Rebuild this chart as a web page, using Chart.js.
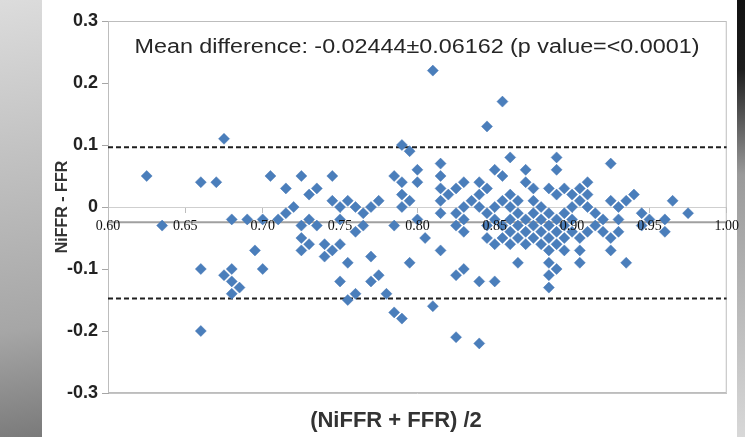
<!DOCTYPE html>
<html>
<head>
<meta charset="utf-8">
<script src="https://cdn.jsdelivr.net/npm/chart.js@4/dist/chart.umd.min.js"></script>
<style>
html,body{margin:0;padding:0;background:#fff;}
#wrap{position:relative;width:745px;height:437px;overflow:hidden;background:#fff;}
#leftbg{position:absolute;left:0;top:0;width:42px;height:437px;background:linear-gradient(170deg,#dcdcdc 0%,#c2c2c2 35%,#a6a6a6 75%,#7a7a7a 100%);}
#rightbg{position:absolute;right:0;top:0;width:8px;height:437px;background:linear-gradient(180deg,#111 0%,#1e1e1e 16%,#9a9a9a 40%,#d8d8d8 100%);}
canvas{position:absolute;left:0;top:0;}
</style>
</head>
<body>
<div id="wrap"><div id="leftbg"></div><div id="rightbg"></div><canvas id="c" width="745" height="437"></canvas></div>
<script>
// ---- data ----
const meanOfMethods = [
  0.625,
  0.635,
  0.66, 0.66, 0.66,
  0.67,
  0.675, 0.675,
  0.68, 0.68, 0.68, 0.68,
  0.685,
  0.69,
  0.695,
  0.70, 0.70,
  0.705,
  0.71,
  0.715, 0.715,
  0.72,
  0.725, 0.725, 0.725, 0.725,
  0.73, 0.73, 0.73,
  0.735, 0.735,
  0.74, 0.74,
  0.745, 0.745, 0.745,
  0.75, 0.75, 0.75, 0.75,
  0.755, 0.755, 0.755,
  0.76, 0.76, 0.76,
  0.765, 0.765,
  0.77, 0.77, 0.77,
  0.775, 0.775,
  0.78,
  0.785, 0.785, 0.785,
  0.79, 0.79, 0.79, 0.79, 0.79,
  0.795, 0.795, 0.795,
  0.80, 0.80, 0.80,
  0.805,
  0.81, 0.81,
  0.815, 0.815, 0.815, 0.815, 0.815, 0.815,
  0.82,
  0.825, 0.825, 0.825, 0.825, 0.825,
  0.83, 0.83, 0.83, 0.83, 0.83,
  0.835,
  0.84, 0.84, 0.84, 0.84, 0.84,
  0.845, 0.845, 0.845, 0.845, 0.845,
  0.85, 0.85, 0.85, 0.85, 0.85,
  0.855, 0.855, 0.855, 0.855, 0.855,
  0.86, 0.86, 0.86, 0.86, 0.86, 0.86,
  0.865, 0.865, 0.865, 0.865, 0.865,
  0.87, 0.87, 0.87, 0.87, 0.87,
  0.875, 0.875, 0.875, 0.875, 0.875,
  0.88, 0.88, 0.88, 0.88,
  0.885, 0.885, 0.885, 0.885, 0.885, 0.885, 0.885, 0.885,
  0.89, 0.89, 0.89, 0.89, 0.89, 0.89, 0.89,
  0.895, 0.895, 0.895, 0.895, 0.895,
  0.90, 0.90, 0.90, 0.90,
  0.905, 0.905, 0.905, 0.905, 0.905,
  0.91, 0.91, 0.91, 0.91,
  0.915, 0.915,
  0.92, 0.92,
  0.925, 0.925, 0.925, 0.925,
  0.93, 0.93, 0.93,
  0.935, 0.935,
  0.94,
  0.945, 0.945,
  0.95,
  0.96, 0.96,
  0.965,
  0.975
];
const methodDifference = [
  0.05,
  -0.03,
  0.04, -0.10, -0.20,
  0.04,
  0.11, -0.11,
  -0.02, -0.10, -0.12, -0.14,
  -0.13,
  -0.02,
  -0.07,
  -0.02, -0.10,
  0.05,
  -0.02,
  0.03, -0.01,
  0.00,
  0.05, -0.03, -0.05, -0.07,
  0.02, -0.02, -0.06,
  0.03, -0.03,
  -0.06, -0.08,
  0.05, 0.01, -0.07,
  0.00, -0.02, -0.06, -0.12,
  0.01, -0.09, -0.15,
  0.00, -0.04, -0.14,
  -0.01, -0.03,
  0.00, -0.08, -0.12,
  0.01, -0.11,
  -0.14,
  0.05, -0.03, -0.17,
  0.10, 0.04, 0.02, 0.00, -0.18,
  0.09, 0.01, -0.09,
  0.06, 0.04, -0.02,
  -0.05,
  0.22, -0.16,
  0.07, 0.05, 0.03, 0.01, -0.01, -0.07,
  0.02,
  0.03, -0.01, -0.03, -0.11, -0.21,
  0.04, 0.00, -0.02, -0.04, -0.10,
  0.01,
  0.04, 0.02, 0.00, -0.12, -0.22,
  0.13, 0.03, -0.01, -0.03, -0.05,
  0.06, 0.00, -0.02, -0.06, -0.12,
  0.17, 0.05, 0.01, -0.03, -0.05,
  0.08, 0.02, 0.00, -0.02, -0.04, -0.06,
  0.01, -0.01, -0.03, -0.05, -0.09,
  0.06, 0.04, -0.02, -0.04, -0.06,
  0.03, 0.01, -0.01, -0.03, -0.05,
  0.00, -0.02, -0.04, -0.06,
  0.03, -0.01, -0.03, -0.05, -0.07, -0.09, -0.11, -0.13,
  0.08, 0.06, 0.02, -0.02, -0.04, -0.06, -0.10,
  0.03, -0.01, -0.03, -0.05, -0.07,
  0.02, 0.00, -0.02, -0.04,
  0.03, 0.01, -0.05, -0.07, -0.09,
  0.04, 0.02, 0.00, -0.04,
  -0.01, -0.03,
  -0.02, -0.04,
  0.07, 0.01, -0.05, -0.07,
  0.00, -0.02, -0.04,
  0.01, -0.09,
  0.02,
  -0.01, -0.03,
  -0.02,
  -0.02, -0.04,
  0.01,
  -0.01
];
const meanDifference = [-0.02444];
const limitsOfAgreement = [0.0963, -0.1476];
const xRange = [0.6, 1.0];
const yRange = [-0.3, 0.3];
const xTickLabels = ['0.60','0.65','0.70','0.75','0.80','0.85','0.90','0.95','1.00'];
const yTickLabels = ['-0.3','-0.2','-0.1','0','0.1','0.2','0.3'];
const annotationText = 'Mean difference: -0.02444\u00b10.06162 (p value=<0.0001)';
const xTitle = '(NiFFR + FFR) /2';
const yTitle = 'NiFFR - FFR';

// ---- chart ----
const points = meanOfMethods.map((m, i) => ({x: m, y: methodDifference[i]}));
const hLine = v => [{x: xRange[0], y: v}, {x: xRange[1], y: v}];

const boxPlugin = {
  id: 'plotBox',
  beforeDatasetsDraw(chart) {
    const {ctx, chartArea: a} = chart;
    ctx.save();
    ctx.strokeStyle = '#bdbdbd';
    ctx.lineWidth = 1;
    ctx.strokeRect(a.left + 0.5, a.top + 0.5, a.right - a.left - 1, a.bottom - a.top - 1);
    ctx.restore();
  }
};
const textPlugin = {
  id: 'texts',
  afterDraw(chart) {
    const ctx = chart.ctx;
    ctx.save();
    ctx.font = '20px "Liberation Sans", Arial, sans-serif';
    ctx.fillStyle = '#262626';
    ctx.textBaseline = 'middle';
    ctx.textAlign = 'center';
    const w = ctx.measureText(annotationText).width;
    ctx.translate(417, 47);
    ctx.scale(565 / w, 1);
    ctx.fillText(annotationText, 0, 0);
    ctx.restore();

    ctx.save();
    ctx.font = 'bold 22px "Liberation Sans", Arial, sans-serif';
    ctx.fillStyle = '#333';
    ctx.textBaseline = 'middle';
    ctx.textAlign = 'center';
    ctx.fillText(xTitle, 396, 421);
    ctx.restore();
  }
};

new Chart(document.getElementById('c'), {
  type: 'scatter',
  data: {
    datasets: [
      {type: 'line', data: hLine(limitsOfAgreement[0]), borderColor: '#1f1f1f', borderWidth: 2, borderDash: [5, 3], pointRadius: 0, order: 2},
      {type: 'line', data: hLine(limitsOfAgreement[1]), borderColor: '#1f1f1f', borderWidth: 2, borderDash: [5, 3], pointRadius: 0, order: 2},
      {type: 'line', data: hLine(meanDifference[0]), borderColor: '#a0a0a0', borderWidth: 2, pointRadius: 0, order: 2},
      {data: points, pointStyle: 'rectRot', pointRadius: 5.5, backgroundColor: '#4a7ebb', borderColor: '#4677b5', borderWidth: 0.5, order: 0}
    ]
  },
  options: {
    responsive: false,
    animation: false,
    layout: {padding: {left: 40, right: 17, top: 21, bottom: 0}},
    plugins: {legend: {display: false}, tooltip: {enabled: false}},
    scales: {
      x: {
        type: 'linear', min: xRange[0], max: xRange[1], position: {y: 0},
        ticks: {stepSize: 0.05, autoSkip: false, maxRotation: 0, callback: (v, i) => xTickLabels[i],
          font: {family: '"Liberation Serif", "Times New Roman", serif', size: 14}, color: '#111', padding: 6, z: 1},
        grid: {display: true, drawOnChartArea: false, drawTicks: true, tickLength: 5, color: '#bdbdbd'},
        border: {display: true, color: '#cfcfcf', width: 1}
      },
      x2: {
        type: 'linear', min: xRange[0], max: xRange[1], position: 'bottom',
        ticks: {display: false}, grid: {display: false},
        border: {display: true, color: '#c4c4c4'},
        afterFit(s) { s.height = 44; }
      },
      y: {
        type: 'linear', min: yRange[0], max: yRange[1],
        ticks: {stepSize: 0.1, callback: (v, i) => yTickLabels[i],
          font: {family: '"Liberation Sans", Arial, sans-serif', size: 18, weight: 'bold'}, color: '#222', padding: 4},
        grid: {display: true, drawOnChartArea: false, drawTicks: true, tickLength: 6, color: '#a6a6a6'},
        border: {display: true, color: '#a6a6a6'},
        title: {display: true, text: yTitle, color: '#333',
          font: {family: '"Liberation Sans", Arial, sans-serif', size: 16, weight: 'bold'}, padding: {top: 13, bottom: 0}},
        afterFit(s) { s.width = 68; }
      }
    }
  },
  plugins: [boxPlugin, textPlugin]
});
</script>
</body>
</html>
